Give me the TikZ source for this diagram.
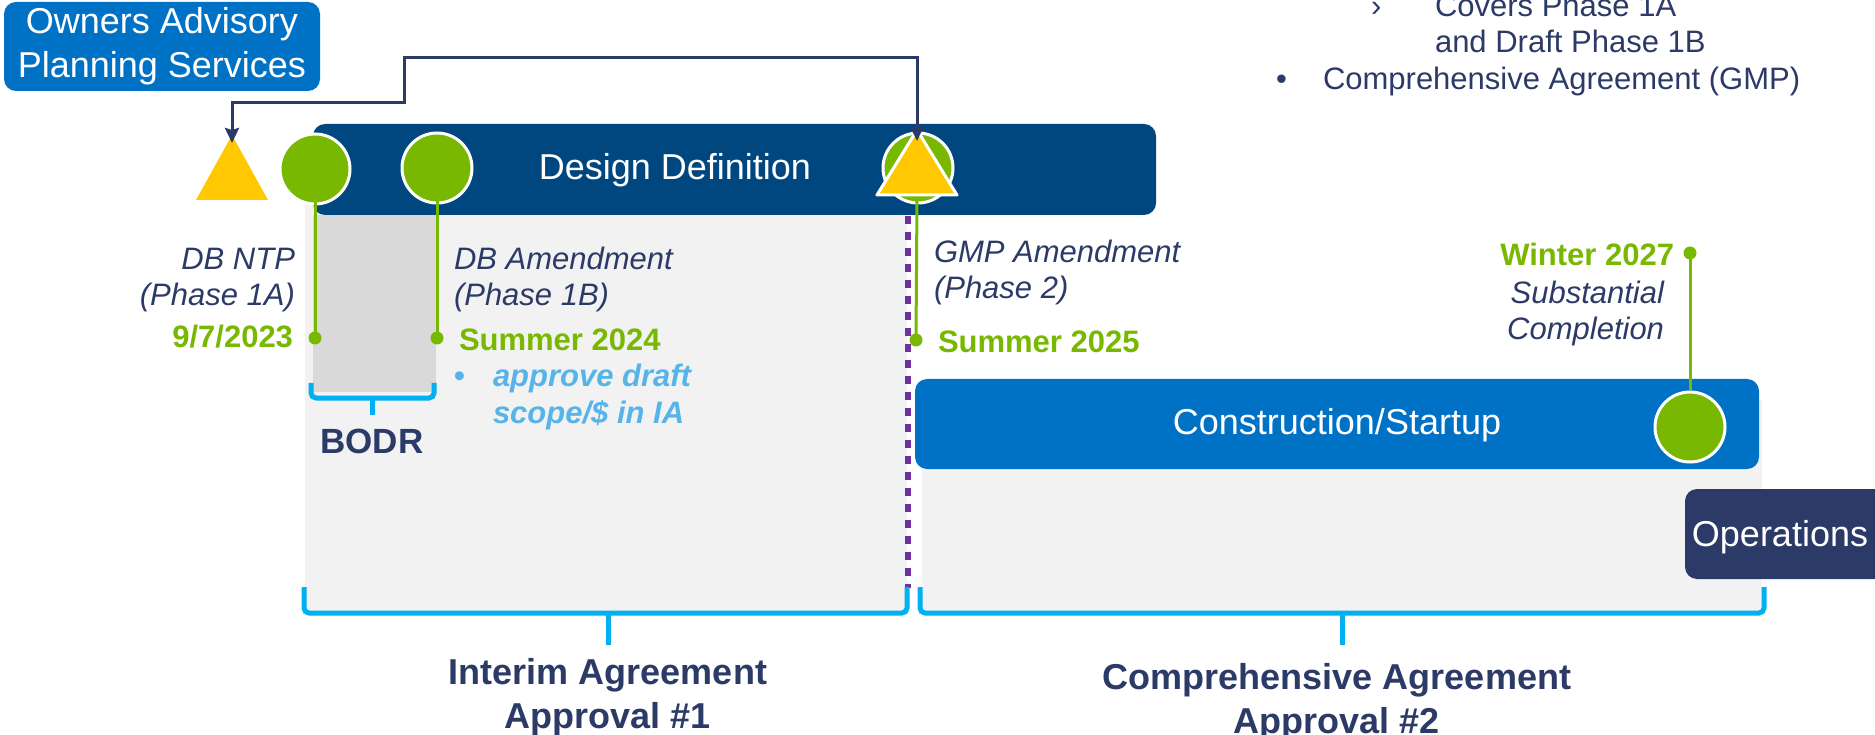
\documentclass[tikz,border=0pt]{standalone}
\usepackage{fontspec}
\setmainfont{Liberation Sans}
\usetikzlibrary{arrows.meta}
\definecolor{navy}{RGB}{43,58,103}
\definecolor{darkbar}{RGB}{0,71,127}
\definecolor{midblue}{RGB}{0,114,198}
\definecolor{grn}{RGB}{120,184,0}
\definecolor{yel}{RGB}{255,200,0}
\definecolor{ltblue}{RGB}{86,180,233}
\definecolor{cyanbr}{RGB}{0,176,240}
\definecolor{bggray}{RGB}{242,242,242}
\definecolor{dkgray}{RGB}{217,217,217}
\definecolor{purp}{RGB}{112,48,160}
\newcommand\fbig{\fontsize{36}{44}\selectfont}
\newcommand\fmid{\fontsize{31}{36}\selectfont}
\begin{document}
\begin{tikzpicture}[x=1pt,y=-1pt,
  txt/.style={inner sep=0pt, outer sep=0pt, text=navy, font=\fmid},
  itxt/.style={txt, font=\fmid\itshape},
  gtxt/.style={txt, text=grn, font=\fmid\bfseries},
  btxt/.style={txt, font=\fbig\bfseries, align=center},
  wtxt/.style={inner sep=0pt, outer sep=0pt, text=white, font=\fbig},
  bar/.style={rounded corners=12pt},
  gcirc/.style={circle, fill=grn, draw=white, line width=3pt, minimum size=70pt, inner sep=0pt},
  stem/.style={grn, line width=3pt},
  gdot/.style={circle, fill=grn, minimum size=13pt, inner sep=0pt},
  brk/.style={cyanbr, line width=5pt, rounded corners=5pt},
  conn/.style={navy, line width=3pt, {Stealth[length=15pt,width=14pt,inset=2pt]}-{Stealth[length=15pt,width=14pt,inset=2pt]}}
]
\useasboundingbox (0,0) rectangle (1875,735);

% background regions
\fill[bggray] (305,180) rectangle (907,613);
\fill[bggray] (922,400) rectangle (1762,613);
\fill[dkgray] (313,215) rectangle (436,392);

% bars
\fill[midblue, bar] (4,2) rectangle (320,91);
\node[wtxt, align=center] (oaps) at (162,46) {Owners Advisory\\Planning Services};
\fill[darkbar, bar] (313,124) rectangle (1156,215);
\node[wtxt, anchor=base] (dd) at (675,180) {Design Definition};
\fill[midblue, bar] (915,379) rectangle (1759,469);
\node[wtxt, anchor=base] (cs) at (1337,435) {Construction/Startup};
\fill[navy, bar] (1685,489) rectangle (1895,579);
\node[wtxt, anchor=base] (ops) at (1780,546) {Operations};

% purple dotted line
\draw[purp, line width=6pt, dash pattern=on 8pt off 8pt] (908,216) -- (908,588);

% milestones
\node[gdot] (d1) at (315,338) {};
\node[gdot] (d2) at (437,338) {};
\node[gdot] (d3) at (916,340) {};
\node[gdot] (d4) at (1690,253) {};
\node[gcirc] (c1) at (315,169) {};
\node[gcirc] (c2) at (437,168) {};
\node[gcirc] (c3) at (918,168) {};
\node[gcirc] (c4) at (1690,427) {};
\draw[stem] (c1.center) -- (d1.center);
\draw[stem] (c2.center) -- (d2.center);
\draw[stem] (d4.center) -- (c4.north);

% triangles
\fill[yel] (196,200) -- (232,135) -- (268,200) -- cycle;
\coordinate (triL) at (232,135);
\filldraw[fill=yel, draw=white, line width=3pt, line join=round] (877,195) -- (917,130) -- (957,195) -- cycle;
\coordinate (triR) at (917,128);
\coordinate (triRb) at (917,197);
\draw[stem] (triRb) -- (d3.center);

% connector
\coordinate (k1) at (404,103);
\coordinate (k2) at (917,58);
\draw[conn] ([yshift=-8pt]triL) |- (k1) |- (k2) -- ([yshift=-13pt]triR);

% labels (base anchor = baseline of last line)
\node[itxt, anchor=base east, align=right] (ntp) at (295,306) {DB NTP\\(Phase 1A)};
\node[gtxt, anchor=base east] (date1) at (293,348) {9/7/2023};
\node[itxt, anchor=base west, align=left] (dba) at (454,306) {DB Amendment\\(Phase 1B)};
\node[gtxt, anchor=base west] (date2) at (459,351) {Summer 2024};
\node[txt, text=ltblue, font=\fmid\bfseries, anchor=base west] (bul1) at (454,387) {•};
\node[txt, text=ltblue, font=\fmid\bfseries\itshape, anchor=base west, align=left] (appr) at (493,423) {approve draft\\scope/\$ in IA};
\node[itxt, anchor=base west, align=left] (gmp) at (934,299) {GMP Amendment\\(Phase 2)};
\node[gtxt, anchor=base west] (date3) at (938,353) {Summer 2025};
\node[gtxt, anchor=base east] (date4) at (1674,266) {Winter 2027};
\node[itxt, anchor=base east, align=right] (subc) at (1664,340) {Substantial\\Completion};

% top right list
\node[txt, anchor=base west] (chev) at (1371,17) {›};
\node[txt, anchor=base west, align=left] (cov) at (1435,53) {Covers Phase 1A\\and Draft Phase 1B};
\node[txt, anchor=base west] (bul2) at (1276,90) {•};
\node[txt, anchor=base west] (cagmp) at (1323,90) {Comprehensive Agreement (GMP)};

% brackets
\draw[brk] (311,383) -- (311,398) -- (434,398) -- (434,383);
\draw[cyanbr, line width=5pt] (372,398) -- (372,415);
\node[txt, font=\fontsize{35}{42}\selectfont\bfseries, anchor=base] (bodr) at (372,453) {BODR};
\draw[brk] (304,587) -- (304,613) -- (907,613) -- (907,587);
\draw[cyanbr, line width=5pt] (608,613) -- (608,645);
\draw[brk] (920,587) -- (920,613) -- (1764,613) -- (1764,587);
\draw[cyanbr, line width=5pt] (1342,613) -- (1342,645);
\node[btxt, anchor=base] (ia) at (608,728) {Interim Agreement\\Approval \#1};
\node[btxt, anchor=base] (ca) at (1337,733) {Comprehensive Agreement\\Approval \#2};
\end{tikzpicture}
\end{document}
